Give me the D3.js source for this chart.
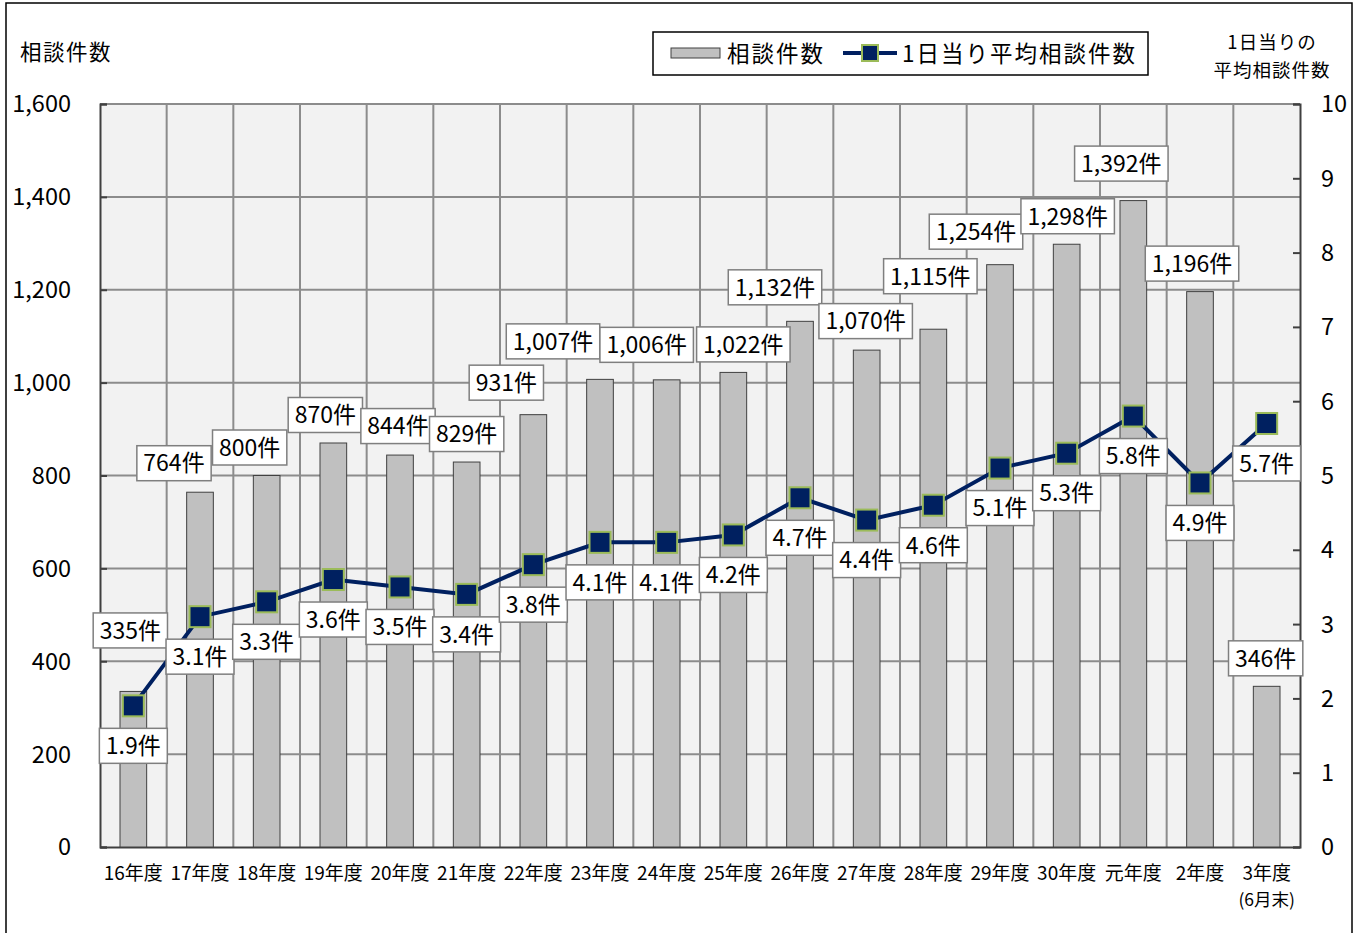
<!DOCTYPE html>
<html>
<head>
<meta charset="utf-8">
<script src="https://cdn.jsdelivr.net/npm/d3@7"></script>
<style>
  body { margin: 0; background: #fff; }
  svg text { font-family: "Noto Sans CJK JP", "Noto Sans", sans-serif; fill: #000; }
</style>
</head>
<body>
<div id="chart"></div>
<script>
// 年度ごとの相談件数と1日当り平均
const categories = ['16年度', '17年度', '18年度', '19年度', '20年度', '21年度', '22年度', '23年度', '24年度',
  '25年度', '26年度', '27年度', '28年度', '29年度', '30年度', '元年度', '2年度', '3年度'];
const categoryNotes = ['', '', '', '', '', '', '', '', '', '', '', '', '', '', '', '', '', '(6月末)'];
const counts = [335, 764, 800, 870, 844, 829, 931, 1007, 1006, 1022, 1132, 1070, 1115, 1254, 1298, 1392, 1196, 346];
const dailyAvg = [1.9, 3.1, 3.3, 3.6, 3.5, 3.4, 3.8, 4.1, 4.1, 4.2, 4.7, 4.4, 4.6, 5.1, 5.3, 5.8, 4.9, 5.7];
const leftTicks = [0, 200, 400, 600, 800, 1000, 1200, 1400, 1600];
const rightTicks = [0, 1, 2, 3, 4, 5, 6, 7, 8, 9, 10];

// 件数ラベルは手で動かされているので、棒の上端からのずれ
const countLabelNudge = [[-3, -61], [-26, -29], [-17, -28], [-8, -28], [-2, -29], [0, -28], [-27, -32],
  [-47, -38], [-20, -35], [10, -28], [-25, -34], [-1, -29], [-3, -53], [-24, -33], [1, -28],
  [-12, -37], [-8, -28], [-1, -28]];

const W = 1365, H = 933;
const plot = { left: 100, right: 1300, top: 104, bottom: 847 };

const svg = d3.select('#chart').append('svg').attr('width', W).attr('height', H);

// 外枠
svg.append('rect')
  .attr('x', 6).attr('y', 3).attr('width', 1346).attr('height', H + 10)
  .attr('fill', 'none').attr('stroke', '#000').attr('stroke-width', 1.5);

const x = d3.scaleBand().domain(categories).range([plot.left, plot.right]);
const y = d3.scaleLinear().domain([0, 1600]).range([plot.bottom, plot.top]);
const yR = d3.scaleLinear().domain([0, 10]).range([plot.bottom, plot.top]);
const cx = d => x(d) + x.bandwidth() / 2;

// 背景とグリッド
svg.append('rect')
  .attr('x', plot.left).attr('y', plot.top)
  .attr('width', plot.right - plot.left).attr('height', plot.bottom - plot.top)
  .attr('fill', '#f2f2f2');

const grid = svg.append('g').attr('stroke', '#8c8c8c').attr('stroke-width', 2);
grid.selectAll('line.h').data(leftTicks.slice(1)).join('line')
  .attr('class', 'h')
  .attr('x1', plot.left).attr('x2', plot.right)
  .attr('y1', d => y(d)).attr('y2', d => y(d));
grid.selectAll('line.v').data(categories.slice(1)).join('line')
  .attr('class', 'v')
  .attr('x1', d => x(d)).attr('x2', d => x(d))
  .attr('y1', plot.top).attr('y2', plot.bottom);

// 軸
const axisL = svg.append('g').attr('transform', `translate(${plot.left},0)`)
  .call(d3.axisRight(y).tickValues(leftTicks).tickSize(7).tickFormat(''));
const axisR = svg.append('g').attr('transform', `translate(${plot.right},0)`)
  .call(d3.axisLeft(yR).tickValues(rightTicks).tickSize(7).tickFormat(''));
const axisB = svg.append('g').attr('transform', `translate(0,${plot.bottom})`)
  .call(d3.axisBottom(x).tickSize(0).tickFormat(''));
[axisL, axisR, axisB].forEach(a => {
  a.selectAll('path.domain').attr('stroke', '#404040').attr('stroke-width', 2);
  a.selectAll('line').attr('stroke', '#404040').attr('stroke-width', 2);
});

svg.append('g').selectAll('text').data(leftTicks).join('text')
  .attr('x', 71).attr('y', d => y(d)).attr('dy', '0.36em')
  .attr('text-anchor', 'end').attr('font-size', 23.5)
  .text(d => d3.format(',')(d));

svg.append('g').selectAll('text').data(rightTicks).join('text')
  .attr('x', 1321).attr('y', d => yR(d)).attr('dy', '0.36em')
  .attr('text-anchor', 'start').attr('font-size', 23.5)
  .text(d => d);

// カテゴリ
const cat = svg.append('g').attr('font-size', 19).attr('text-anchor', 'middle');
cat.selectAll('text.c').data(categories).join('text')
  .attr('class', 'c')
  .attr('x', d => cx(d)).attr('y', 880)
  .text(d => d);
cat.selectAll('text.n').data(categories.filter((d, i) => categoryNotes[i])).join('text')
  .attr('class', 'n')
  .attr('x', d => cx(d)).attr('y', 906)
  .attr('font-size', 17.5)
  .text(d => categoryNotes[categories.indexOf(d)]);

// 軸タイトル
svg.append('text').attr('x', 20).attr('y', 60).attr('font-size', 21.5)
  .attr('letter-spacing', 1.5).text('相談件数');
svg.append('text').attr('x', 1272).attr('y', 49).attr('font-size', 18.5)
  .attr('text-anchor', 'middle').attr('letter-spacing', 1).text('1日当りの');
svg.append('text').attr('x', 1272).attr('y', 77).attr('font-size', 18.5)
  .attr('text-anchor', 'middle').attr('letter-spacing', 1).text('平均相談件数');

// 棒
const barW = x.bandwidth() * 0.4;
svg.append('g').selectAll('rect').data(counts).join('rect')
  .attr('x', (d, i) => cx(categories[i]) - barW / 2)
  .attr('y', d => y(d))
  .attr('width', barW)
  .attr('height', d => plot.bottom - y(d))
  .attr('fill', '#c0c0c0')
  .attr('stroke', '#404040').attr('stroke-width', 1);

// 折れ線
const line = d3.line()
  .x((d, i) => cx(categories[i]))
  .y(d => yR(d));
svg.append('path').datum(dailyAvg)
  .attr('d', line)
  .attr('fill', 'none').attr('stroke', '#002060').attr('stroke-width', 4);

const mk = 21;
svg.append('g').selectAll('rect').data(dailyAvg).join('rect')
  .attr('x', (d, i) => cx(categories[i]) - mk / 2)
  .attr('y', d => yR(d) - mk / 2)
  .attr('width', mk).attr('height', mk)
  .attr('fill', '#002060').attr('stroke', '#9bbb59').attr('stroke-width', 2);

// データラベル
function addLabel(g, px, py, str) {
  const lg = g.append('g');
  const box = lg.append('rect');
  const t = lg.append('text')
    .attr('x', px).attr('y', py).attr('dy', '0.36em')
    .attr('text-anchor', 'middle').attr('font-size', 23)
    .text(str);
  const w = t.node().getComputedTextLength() + 13;
  const h = 35;
  box.attr('x', px - w / 2).attr('y', py - h / 2)
    .attr('width', w).attr('height', h)
    .attr('fill', '#fff').attr('stroke', '#7f7f7f').attr('stroke-width', 1.5);
}

const labels = svg.append('g');
counts.forEach((v, i) => {
  const [dx, dy] = countLabelNudge[i];
  addLabel(labels, cx(categories[i]) + dx, y(v) + dy, d3.format(',')(v) + '件');
});
dailyAvg.forEach((v, i) => {
  addLabel(labels, cx(categories[i]), yR(v) + 40, v.toFixed(1) + '件');
});

// 凡例
const leg = svg.append('g');
leg.append('rect').attr('x', 653).attr('y', 32).attr('width', 495).attr('height', 43)
  .attr('fill', '#fff').attr('stroke', '#000').attr('stroke-width', 1.5);
leg.append('rect').attr('x', 671).attr('y', 48).attr('width', 49).attr('height', 10)
  .attr('fill', '#c0c0c0').attr('stroke', '#404040').attr('stroke-width', 1);
leg.append('text').attr('x', 727).attr('y', 54).attr('dy', '0.36em')
  .attr('font-size', 22.5).attr('letter-spacing', 2).text('相談件数');
leg.append('line').attr('x1', 843).attr('x2', 897).attr('y1', 53).attr('y2', 53)
  .attr('stroke', '#002060').attr('stroke-width', 4);
leg.append('rect').attr('x', 870 - 8).attr('y', 53 - 8).attr('width', 16).attr('height', 16)
  .attr('fill', '#002060').attr('stroke', '#9bbb59').attr('stroke-width', 2);
leg.append('text').attr('x', 902).attr('y', 54).attr('dy', '0.36em')
  .attr('font-size', 22.5).attr('letter-spacing', 2).text('1日当り平均相談件数');
</script>
</body>
</html>
